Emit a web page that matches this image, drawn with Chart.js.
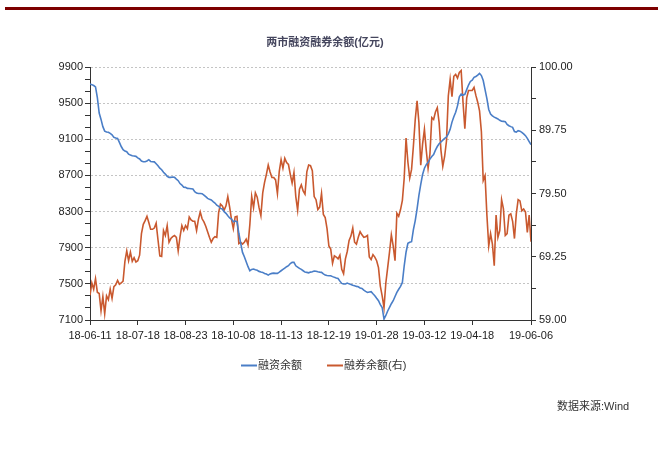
<!DOCTYPE html>
<html><head><meta charset="utf-8">
<script src="https://cdn.jsdelivr.net/npm/chart.js@4.4.1/dist/chart.umd.min.js"></script>
<style>html,body{margin:0;padding:0;background:#fff;}#wrap{position:relative;width:664px;height:459px;}</style>
</head><body><div id="wrap"><canvas id="c" width="664" height="459"></canvas></div>
<script>
// ---- data ----
const xTickDays = [0, 26, 52, 78, 104, 130, 156, 182, 208, 240];
const xTickLabels = ['18-06-11','18-07-18','18-08-23','18-10-08','18-11-13','18-12-19','19-01-28','19-03-12','19-04-18','19-06-06'];
const leftTicks = [7100, 7500, 7900, 8300, 8700, 9100, 9500, 9900];
const rightTicks = [59.00, 69.25, 79.50, 89.75, 100.00];
const seriesNames = ['融资余额', '融券余额(右)'];
const titleText = '两市融资融券余额(亿元)';
const sourceText = '数据来源:Wind';

// 融资余额 (亿元), one value per trading day from 18-06-11
const financing = [
9712,9705,9695,9680,9560,9390,9320,9240,9190,9180,
9177,9165,9150,9121,9115,9110,9066,9020,8985,8970,
8963,8935,8926,8918,8915,8911,8895,8882,8860,8852,
8852,8860,8874,8855,8852,8850,8830,8808,8780,8763,
8735,8715,8690,8679,8679,8682,8679,8660,8642,8610,
8594,8570,8568,8557,8555,8552,8549,8520,8505,8500,
8500,8498,8483,8465,8446,8435,8428,8410,8394,8370,
8358,8335,8328,8299,8280,8254,8230,8217,8188,8195,
8188,8060,7950,7848,7800,7745,7690,7645,7660,7664,
7656,7650,7638,7632,7627,7615,7608,7597,7610,7616,
7619,7616,7616,7630,7645,7660,7675,7690,7701,7725,
7738,7738,7700,7686,7671,7660,7645,7630,7627,7622,
7630,7634,7642,7640,7634,7630,7627,7610,7597,7592,
7590,7590,7580,7572,7565,7560,7530,7505,7500,7498,
7509,7500,7494,7485,7479,7472,7468,7455,7450,7430,
7417,7405,7410,7413,7390,7369,7340,7313,7270,7239,
7110,7150,7200,7239,7280,7313,7360,7405,7440,7472,
7516,7700,7850,7948,7960,7966,8100,8200,8330,8480,
8600,8710,8780,8820,8845,8880,8910,8930,8980,9020,
9050,9070,9090,9110,9125,9160,9210,9290,9350,9400,
9470,9570,9600,9590,9598,9650,9700,9740,9755,9785,
9795,9810,9830,9805,9750,9650,9550,9430,9380,9360,
9345,9335,9325,9310,9300,9298,9295,9265,9250,9240,
9232,9185,9180,9195,9190,9177,9160,9140,9110,9075,
9040
];

// 融券余额 (亿元, 右轴)
const securities = [
63.0,65.0,64.0,65.7,63.5,63.3,60.5,62.8,60.0,62.9,
62.3,64.0,62.5,64.4,64.7,65.4,64.8,65.0,65.3,68.5,
70.2,68.6,70.0,68.5,69.1,68.4,68.6,69.5,73.0,74.5,
75.1,75.8,74.8,73.7,73.7,73.9,74.7,72.0,69.4,69.3,
73.5,72.7,74.3,71.6,72.2,72.5,72.7,72.4,70.2,72.5,
74.3,73.5,74.3,73.8,75.7,75.2,75.0,75.0,73.5,75.3,
76.5,75.4,74.9,74.2,73.3,72.4,71.6,72.2,72.5,72.4,
76.4,77.8,77.5,76.8,77.5,79.0,77.3,75.3,73.8,75.7,
75.8,71.4,71.6,71.3,71.6,72.1,71.2,74.5,79.0,77.2,
79.6,78.9,77.2,75.9,79.6,81.3,82.6,84.1,83.0,82.1,
82.1,81.7,79.5,83.1,85.0,83.6,85.2,84.5,84.2,82.6,
81.2,82.9,79.0,76.8,80.2,80.9,79.9,79.4,83.0,84.1,
84.0,83.2,79.0,78.5,76.9,77.3,79.5,76.1,75.6,73.8,
71.0,70.5,68.2,69.4,69.2,68.9,69.5,67.2,66.5,68.9,
70.1,71.9,72.6,73.9,71.6,71.3,72.4,73.3,72.8,72.4,
72.5,72.7,69.2,68.8,69.6,69.2,68.6,67.5,64.5,62.9,
61.0,65.0,67.5,70.0,72.8,71.0,68.6,76.3,75.8,76.9,
78.4,82.0,88.5,84.6,82.0,83.4,87.2,91.5,94.5,91.0,
84.1,87.5,89.9,86.5,83.6,85.9,91.8,91.5,92.7,93.4,
91.0,86.5,83.9,85.5,88.0,95.3,98.0,95.2,98.5,98.8,
98.2,99.1,99.4,94.3,90.0,95.0,96.2,96.2,96.2,96.7,
95.4,94.3,92.9,89.5,81.6,82.4,76.0,71.0,73.0,71.3,
67.8,76.0,72.4,73.5,78.5,77.0,72.7,73.0,76.0,76.2,
75.0,72.2,76.2,78.5,78.3,76.7,77.0,76.5,73.2,76.0,
71.7
];

// ---- helpers ----
const F = "'Liberation Sans','Noto Sans CJK SC',sans-serif";
function withMinor(majors, parts) {
  const out = [];
  for (let k = 0; k < majors.length; k++) {
    out.push(majors[k]);
    if (k < majors.length - 1) {
      const step = (majors[k + 1] - majors[k]) / parts;
      for (let j = 1; j < parts; j++) out.push(majors[k] + step * j);
    }
  }
  return out;
}
const leftAll = withMinor(leftTicks, 3);
const rightAll = withMinor(rightTicks, 2);
const isIn = (arr, v) => arr.some(a => Math.abs(a - v) < 1e-6);

const decor = {
  id: 'decor',
  beforeDraw(chart) {
    const c = chart.ctx;
    c.save();
    c.fillStyle = '#ffffff';
    c.fillRect(0, 0, chart.width, chart.height);
    c.fillStyle = '#7d0000';
    c.fillRect(5, 7, 653, 3);
    c.restore();
  },
  afterDraw(chart) {
    const c = chart.ctx;
    c.save();
    c.font = '11px ' + F;
    c.textBaseline = 'middle';
    c.textAlign = 'left';
    const starts = [241, 327];
    chart.data.datasets.forEach((ds, k) => {
      const x = starts[k];
      c.strokeStyle = ds.borderColor;
      c.lineWidth = 2;
      c.beginPath();
      c.moveTo(x, 365.5);
      c.lineTo(x + 16, 365.5);
      c.stroke();
      c.fillStyle = '#333333';
      c.fillText(ds.label, x + 17, 366);
    });
    c.fillStyle = '#333333';
    c.fillText(sourceText, 557, 407);
    c.restore();
  }
};

new Chart(document.getElementById('c'), {
  type: 'line',
  data: {
    datasets: [
      { label: seriesNames[0], data: financing.map((v, i) => ({ x: i, y: v })), yAxisID: 'y',
        borderColor: '#4a7ec7', borderWidth: 1.6, pointRadius: 0, tension: 0, fill: false },
      { label: seriesNames[1], data: securities.map((v, i) => ({ x: i, y: v })), yAxisID: 'y1',
        borderColor: '#c9592f', borderWidth: 1.6, pointRadius: 0, tension: 0, fill: false }
    ]
  },
  options: {
    responsive: false,
    animation: false,
    devicePixelRatio: 1,
    layout: { padding: { top: 0, left: 0, right: 14, bottom: 114 } },
    plugins: {
      legend: { display: false },
      tooltip: { enabled: false },
      title: {
        display: true, text: titleText, color: '#45465e',
        font: { size: 11, weight: 'bold', family: F },
        padding: { top: 36.4, bottom: 17.4 }
      }
    },
    scales: {
      x: {
        type: 'linear', min: 0, max: xTickDays[xTickDays.length - 1],
        afterBuildTicks: s => { s.ticks = xTickDays.map(v => ({ value: v })); },
        ticks: {
          autoSkip: false, maxRotation: 0, minRotation: 0, padding: 4,
          color: '#222222', font: { size: 11, family: F },
          callback: v => { const k = xTickDays.indexOf(v); return k >= 0 ? xTickLabels[k] : ''; }
        },
        grid: { drawOnChartArea: false, tickLength: 5, tickColor: '#333333' },
        border: { color: '#333333', width: 1 },
        afterFit: s => { s.height = 25; }
      },
      y: {
        type: 'linear', position: 'left', min: leftTicks[0], max: leftTicks[leftTicks.length - 1],
        afterBuildTicks: s => { s.ticks = leftAll.map(v => ({ value: v })); },
        ticks: {
          autoSkip: false, padding: 2, color: '#222222', font: { size: 11, family: F },
          callback: v => isIn(leftTicks, v) ? String(Math.round(v)) : ''
        },
        grid: {
          color: ctx => (ctx.tick && isIn(leftTicks, ctx.tick.value)) ? '#c4c4c4' : 'rgba(0,0,0,0)',
          tickColor: '#333333', tickLength: 5, lineWidth: 1
        },
        border: { color: '#333333', width: 1, dash: [2, 2] },
        afterFit: s => { s.width = 90; }
      },
      y1: {
        type: 'linear', position: 'right', min: rightTicks[0], max: rightTicks[rightTicks.length - 1],
        afterBuildTicks: s => { s.ticks = rightAll.map(v => ({ value: v })); },
        ticks: {
          autoSkip: false, padding: 3, color: '#222222', font: { size: 11, family: F },
          callback: v => isIn(rightTicks, v) ? v.toFixed(2) : ''
        },
        grid: { drawOnChartArea: false, tickLength: 5, tickColor: '#333333' },
        border: { color: '#333333', width: 1 },
        afterFit: s => { s.width = 119; }
      }
    }
  },
  plugins: [decor]
});
</script>
</body></html>
